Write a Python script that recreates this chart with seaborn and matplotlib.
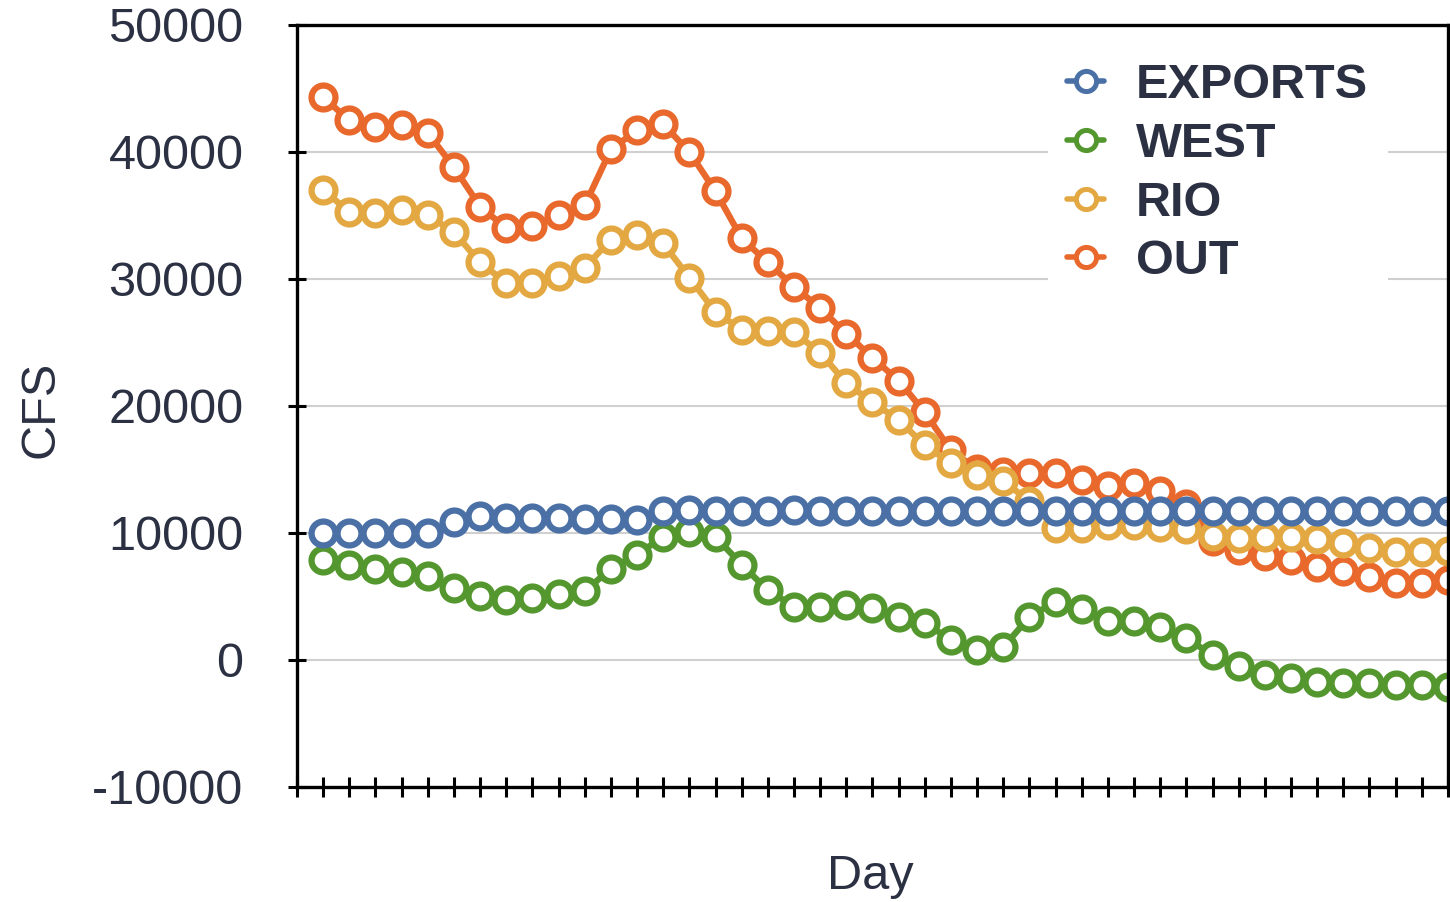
import matplotlib
matplotlib.use("Agg")
import matplotlib.pyplot as plt
import pandas as pd
import seaborn as sns
from matplotlib.lines import Line2D

# daily flows, CFS, day 1..44
days = list(range(1, 45))
exports = [10000, 10000, 10000, 10000, 10000, 10900, 11300, 11200, 11200, 11200,
           11100, 11100, 11000, 11700, 11800, 11700, 11700, 11700, 11800, 11700,
           11700, 11700, 11700, 11700, 11700, 11700, 11700, 11700, 11700, 11700,
           11700, 11700, 11700, 11700, 11700, 11700, 11700, 11700, 11700, 11700,
           11700, 11700, 11700, 11700]
west = [7900, 7500, 7200, 6900, 6600, 5700, 5000, 4700, 4900, 5200,
        5400, 7200, 8300, 9700, 10100, 9700, 7500, 5500, 4200, 4200,
        4300, 4100, 3400, 2900, 1600, 800, 1000, 3400, 4600, 4000,
        3100, 3100, 2600, 1700, 400, -500, -1200, -1400, -1700, -1800,
        -1800, -2000, -2000, -2100]
rio = [37000, 35300, 35200, 35400, 35000, 33700, 31300, 29700, 29700, 30200,
       30900, 33100, 33500, 32800, 30100, 27400, 26000, 25900, 25800, 24200,
       21800, 20300, 18900, 16900, 15500, 14600, 14100, 12500, 10400, 10400,
       10600, 10600, 10500, 10300, 9800, 9600, 9700, 9700, 9500, 9200,
       8800, 8500, 8500, 8600]
out = [44300, 42500, 42000, 42100, 41500, 38800, 35700, 34000, 34200, 35000,
       35800, 40200, 41700, 42200, 40000, 36900, 33200, 31300, 29400, 27700,
       25700, 23800, 22000, 19500, 16500, 15000, 14800, 14700, 14700, 14200,
       13700, 13900, 13300, 12300, 9400, 8700, 8200, 7900, 7300, 7000,
       6500, 6100, 6100, 6300]

legend_order = ["EXPORTS", "WEST", "RIO", "OUT"]
draw_order = ["OUT", "RIO", "WEST", "EXPORTS"]

df = pd.DataFrame({"Day": days, "EXPORTS": exports, "WEST": west, "RIO": rio, "OUT": out})

colors = {"EXPORTS": "#4a70a6",
          "WEST": "#54972f",
          "RIO": "#e3a842",
          "OUT": "#e9682b"}
text_color = "#2b3142"

sns.set_style("white")
plt.rcParams['font.family'] = ['Liberation Sans', 'DejaVu Sans']
plt.rcParams['axes.unicode_minus'] = False

fig = plt.figure(figsize=(14.5, 9.02), dpi=100)
ax = fig.add_axes([0.2048, 0.1275, 0.7938, 0.8448])

for name in draw_order:
    sns.lineplot(data=df, x="Day", y=name, ax=ax, color=colors[name], lw=4.6,
                 marker='o', markerfacecolor='white',
                 markeredgecolor=colors[name])
# open circles, about 30 px across like the original
for line in ax.lines:
    line.set_markersize(17.2)
    line.set_markeredgewidth(4.5)

ax.set_xlim(0, 44)
ax.set_ylim(-10000, 50000)
ax.set_xticks(range(0, 45))
ax.set_xticklabels([])
ax.set_yticks(range(-10000, 50001, 10000))
ax.tick_params(axis='x', bottom=True, direction='inout', length=14, width=2.2,
               color='black')
ax.tick_params(axis='y', left=True, direction='inout', length=13, width=2.2,
               color='black', pad=32, labelsize=35, labelcolor=text_color)

ax.yaxis.grid(True, color='#d0d0d0', lw=1.5)
ax.xaxis.grid(False)
ax.set_axisbelow(True)
for side in ['left', 'right', 'top', 'bottom']:
    ax.spines[side].set_color('black')
    ax.spines[side].set_linewidth(2.4)

ax.set_xlabel("Day", fontsize=35, color=text_color, va='top')
ax.xaxis.set_label_coords(0.498, -0.088)
ax.set_ylabel("CFS", fontsize=35, color=text_color)
ax.yaxis.set_label_coords(-0.2024, 0.495)

handles = [Line2D([], [], color=colors[n], lw=4, marker='o', ms=14.5,
                  mfc='white', mec=colors[n], mew=3.6) for n in legend_order]
leg = ax.legend(handles, legend_order, loc='upper left',
                bbox_to_anchor=(1048 / 1450, 1 - 44 / 902),
                bbox_transform=fig.transFigure, frameon=True, fancybox=False,
                facecolor='white', edgecolor='white', framealpha=1,
                handlelength=0.76, handletextpad=0.65, labelspacing=0.28,
                borderpad=0.4, borderaxespad=0,
                prop={'size': 35, 'weight': 'bold'})
for t in leg.get_texts():
    t.set_color(text_color)
leg.get_frame().set_linewidth(0)

fig.savefig("out.png", dpi=100)
